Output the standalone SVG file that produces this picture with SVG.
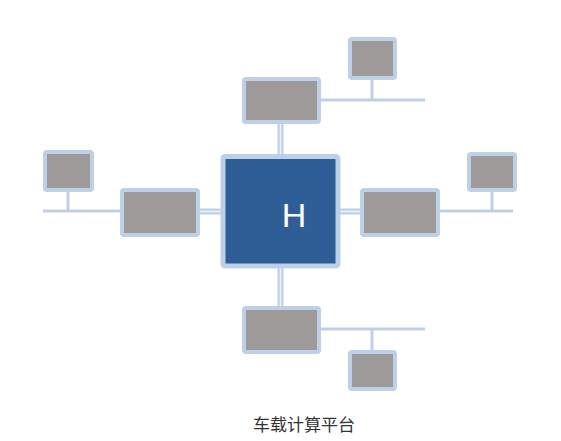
<svg xmlns="http://www.w3.org/2000/svg" width="561" height="441" viewBox="0 0 561 441">
<style>
.gray{fill:#9e9a99;stroke:#bed0e7;stroke-width:4;}
.hub{fill:#2f5e96;stroke:#bed0e7;stroke-width:5;}
.bus{stroke:#bed0e7;stroke-width:3;fill:none;}
.dbl{stroke:#bed0e7;stroke-width:6;fill:none;}
.gap{stroke:#eef3f9;stroke-width:1.5;fill:none;}
</style>
<rect width="561" height="441" fill="#ffffff"/>
<g id="connectors">
<path class="dbl" d="M280.5 124V154M280.5 268V306M200 211.5H221M340 211.5H360"/>
<path class="gap" d="M280.5 124V154M280.5 268V306M200 211.5H221M340 211.5H360"/>
<path class="bus" d="M321 100H425M372 80V100"/>
<path class="bus" d="M43 211H120M68 192V211"/>
<path class="bus" d="M440 211H513M492 192V211"/>
<path class="bus" d="M321 329H425M372 329V350"/>
</g>
<g id="hub">
<rect class="hub" x="223" y="156.5" width="115" height="109.5" rx="2"/>
<text x="294" y="227" font-family="Liberation Sans, Arial, sans-serif" font-size="34" fill="#ffffff" text-anchor="middle">H</text>
</g>
<g id="top"><rect class="gray" x="244" y="79" width="75" height="43" rx="2"/></g>
<g id="top-small"><rect class="gray" x="350" y="39" width="45" height="39" rx="2"/></g>
<g id="left"><rect class="gray" x="122" y="190" width="76" height="45" rx="2"/></g>
<g id="left-small"><rect class="gray" x="45" y="152" width="47" height="38" rx="2"/></g>
<g id="right"><rect class="gray" x="362" y="190" width="76" height="45" rx="2"/></g>
<g id="right-small"><rect class="gray" x="469" y="154" width="46" height="36" rx="2"/></g>
<g id="bottom"><rect class="gray" x="244" y="308" width="75" height="44" rx="2"/></g>
<g id="bottom-small"><rect class="gray" x="350" y="352" width="45" height="37" rx="2"/></g>
<text x="304" y="431" font-family="Noto Sans CJK SC, sans-serif" font-size="17" fill="#333333" text-anchor="middle">车载计算平台</text>
</svg>
